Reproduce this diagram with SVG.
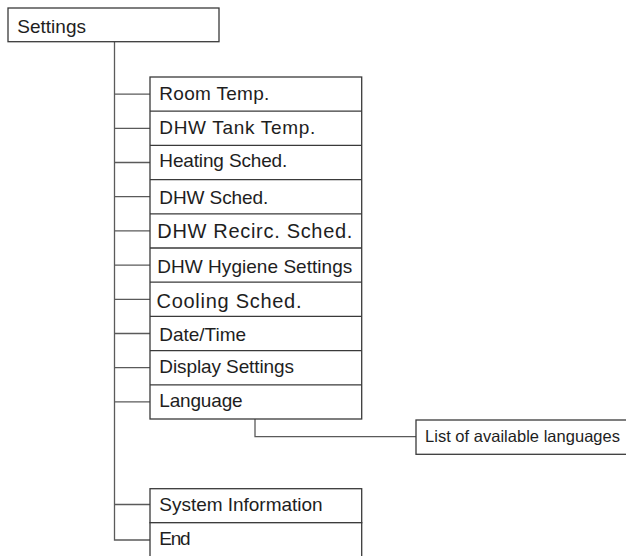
<svg xmlns="http://www.w3.org/2000/svg" width="626" height="556" viewBox="0 0 626 556">
<style>
  .box { fill: #ffffff; stroke: #3a3a3a; stroke-width: 1.3; }
  .sep { stroke: #3a3a3a; stroke-width: 1.3; }
  .conn { fill: none; stroke: #5a5a5a; stroke-width: 1.3; }
  .t { font-family: "Liberation Sans", Arial, sans-serif; font-size: 19px; fill: #1e1e1e; }
  .tw { font-family: "Liberation Sans", Arial, sans-serif; font-size: 20px; fill: #1e1e1e; }
  .ts { font-family: "Liberation Sans", Arial, sans-serif; font-size: 16.5px; fill: #1e1e1e; }
</style>
<rect width="626" height="556" fill="#ffffff"/>

<g id="connectors">
  <path class="conn" d="M114.5 41.7 V540 H150"/>
  <path class="conn" d="M114.5 94.1 H150"/>
  <path class="conn" d="M114.5 128.3 H150"/>
  <path class="conn" d="M114.5 162.5 H150"/>
  <path class="conn" d="M114.5 196.7 H150"/>
  <path class="conn" d="M114.5 230.9 H150"/>
  <path class="conn" d="M114.5 265.1 H150"/>
  <path class="conn" d="M114.5 299.3 H150"/>
  <path class="conn" d="M114.5 333.5 H150"/>
  <path class="conn" d="M114.5 367.7 H150"/>
  <path class="conn" d="M114.5 401.9 H150"/>
  <path class="conn" d="M114.5 504.5 H150"/>
  <path class="conn" d="M255 419 V436.7 H416"/>
</g>

<g id="settings">
  <rect class="box" x="8" y="8" width="211" height="33.7"/>
  <text class="t" x="17.3" y="33.3" textLength="68.7">Settings</text>
</g>

<g id="menu">
  <rect class="box" x="150" y="77" width="211.7" height="342"/>
  <line class="sep" x1="150" y1="111.2" x2="361.7" y2="111.2"/>
  <line class="sep" x1="150" y1="145.4" x2="361.7" y2="145.4"/>
  <line class="sep" x1="150" y1="179.6" x2="361.7" y2="179.6"/>
  <line class="sep" x1="150" y1="213.8" x2="361.7" y2="213.8"/>
  <line class="sep" x1="150" y1="248" x2="361.7" y2="248"/>
  <line class="sep" x1="150" y1="282.2" x2="361.7" y2="282.2"/>
  <line class="sep" x1="150" y1="316.4" x2="361.7" y2="316.4"/>
  <line class="sep" x1="150" y1="350.6" x2="361.7" y2="350.6"/>
  <line class="sep" x1="150" y1="384.8" x2="361.7" y2="384.8"/>
</g>
<g id="room-temp"><text class="t" x="159.3" y="99.7" textLength="110">Room Temp.</text></g>
<g id="dhw-tank-temp"><text class="t" x="159.3" y="133.7" textLength="156">DHW Tank Temp.</text></g>
<g id="heating-sched"><text class="t" x="159.3" y="166.7" textLength="128">Heating Sched.</text></g>
<g id="dhw-sched"><text class="t" x="159.3" y="204.3" textLength="109">DHW Sched.</text></g>
<g id="dhw-recirc-sched"><text class="tw" x="157.3" y="238.3" textLength="195">DHW Recirc. Sched.</text></g>
<g id="dhw-hygiene"><text class="t" x="157.3" y="272.7" textLength="195">DHW Hygiene Settings</text></g>
<g id="cooling-sched"><text class="tw" x="156.5" y="307.7" textLength="145">Cooling Sched.</text></g>
<g id="date-time"><text class="t" x="159.3" y="340.7" textLength="86.7">Date/Time</text></g>
<g id="display-settings"><text class="t" x="159.3" y="373.3" textLength="134.7">Display Settings</text></g>
<g id="language"><text class="t" x="159.3" y="406.7" textLength="83.3">Language</text></g>

<g id="language-list">
  <rect class="box" x="416" y="420" width="230" height="34.3"/>
  <text class="ts" x="425" y="441.7" textLength="195">List of available languages</text>
</g>

<g id="system-information">
  <rect class="box" x="150" y="488.7" width="211.7" height="34"/>
  <text class="t" x="159.3" y="510.7" textLength="163.3">System Information</text>
</g>
<g id="end">
  <rect class="box" x="150" y="522.7" width="211.7" height="50"/>
  <text class="t" x="159.3" y="545" textLength="31.3">End</text>
</g>
</svg>
